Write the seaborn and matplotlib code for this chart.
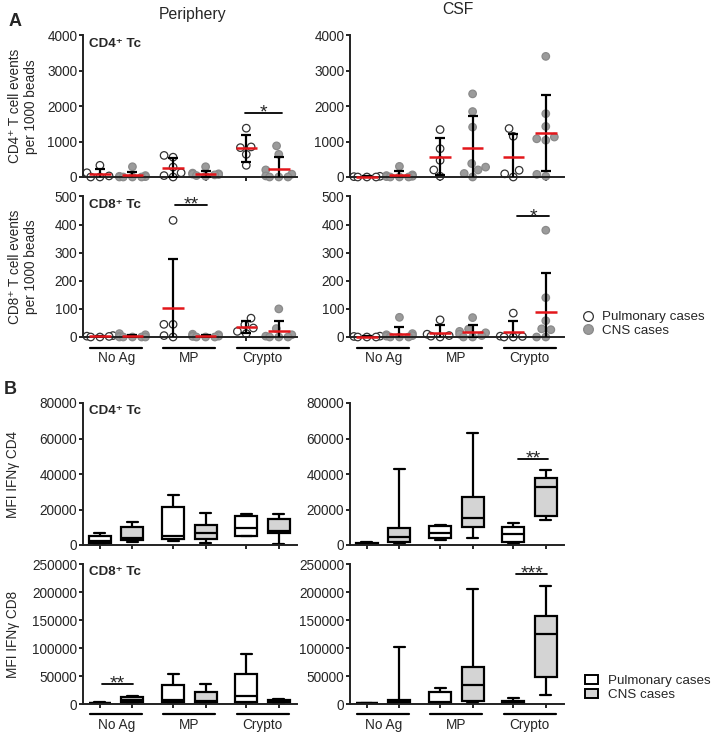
import matplotlib

matplotlib.use("Agg")
import matplotlib.pyplot as plt
import numpy as np
import pandas as pd
import seaborn as sns
from matplotlib.lines import Line2D
from matplotlib.patches import Patch

# ---- data ---------------------------------------------------------------
STIMULI = ["No Ag", "MP", "Crypto"]
CASES = ["Pulmonary cases", "CNS cases"]

# Panel A: T cell events per 1000 beads, one list per stimulus
cd4_periphery_pul = [[330, 120, 30, 0, 0], [610, 560, 280, 120, 40, 0], [1380, 850, 830, 640, 330]]
cd4_periphery_cns = [[290, 40, 20, 10, 0, 0, 0, 0], [290, 110, 90, 80, 70, 60, 40, 20],
                     [880, 640, 200, 80, 30, 0, 0, 0]]
cd4_csf_pul = [[20, 10, 0, 0, 0], [1340, 800, 470, 200, 20], [1370, 1150, 190, 90, 0]]
cd4_csf_cns = [[300, 60, 40, 20, 10, 0, 0, 0], [2350, 1850, 1410, 380, 280, 200, 100, 0],
               [3410, 1790, 1430, 1130, 1080, 1040, 75, 20]]
cd8_periphery_pul = [[5, 3, 2, 0, 0], [415, 45, 45, 5, 0], [67, 44, 32, 20, 12]]
cd8_periphery_cns = [[12, 8, 3, 0, 0, 0, 0, 0], [10, 8, 5, 3, 2, 0, 0, 0], [100, 30, 8, 3, 0, 0, 0]]
cd8_csf_pul = [[3, 2, 0, 0, 0], [61, 10, 5, 3, 0], [85, 3, 2, 0, 0]]
cd8_csf_cns = [[70, 12, 8, 5, 3, 0, 0, 0], [69, 28, 20, 15, 10, 5, 0, 0], [380, 140, 58, 29, 26, 0, 0]]

# Panel B: MFI IFN-gamma, five-number summaries (min, q1, median, q3, max)
mfi_cd4_periphery_pul = [[300, 1200, 2500, 5300, 7000], [2400, 3400, 5300, 21600, 28200],
                         [5200, 5300, 9400, 16600, 17500]]
mfi_cd4_periphery_cns = [[1500, 2800, 3800, 10000, 12800], [1300, 3400, 6600, 11300, 18300],
                         [600, 6600, 7900, 14700, 17500]]
mfi_cd4_csf_pul = [[200, 400, 700, 1200, 1500], [2800, 3800, 6600, 10900, 11300],
                   [400, 1900, 6200, 10400, 12600]]
mfi_cd4_csf_cns = [[600, 1900, 4700, 9800, 42900], [4100, 10000, 15400, 26900, 63000],
                   [14100, 16400, 32900, 38000, 42400]]
mfi_cd8_periphery_pul = [[500, 1000, 1500, 2500, 3000], [1800, 3600, 7700, 33300, 53400],
                         [1800, 3000, 14800, 54000, 89000]]
mfi_cd8_periphery_cns = [[1800, 3600, 7700, 11900, 13700], [1800, 3000, 5900, 20800, 35600],
                         [1800, 3600, 4800, 6500, 8900]]
mfi_cd8_csf_pul = [[500, 1000, 1300, 1800, 2200], [1800, 2400, 3600, 20800, 28500],
                   [1200, 2400, 3600, 5900, 10000]]
mfi_cd8_csf_cns = [[1800, 2400, 4200, 6500, 101000], [1800, 5900, 34400, 65300, 205000],
                   [16600, 49000, 125000, 158000, 211000]]

# significance bars: (x start, x end, height, label)
sig_cd4_periphery = [(4.46, 5.6, 1820, "*")]
sig_cd8_periphery = [(2.31, 3.29, 470, "**")]
sig_cd8_csf = [(4.62, 5.6, 429, "*")]
sig_mfi_cd4_csf = [(4.65, 5.57, 48400, "**")]
sig_mfi_cd8_periphery = [(0.06, 1.02, 36200, "**")]
sig_mfi_cd8_csf = [(4.59, 5.54, 233000, "***")]

# ---- layout ----------------------------------------------------------------
FIG_W, FIG_H = 712, 736
PUL_POS = [0.0, 2.25, 4.5]
CNS_POS = [1.0, 3.25, 5.5]
XLIM = (-0.52, 6.06)
PUL_FACE, CNS_FACE = "white", "#9b9b9b"
BOX_FACE = {"Pulmonary cases": "white", "CNS cases": "#d4d4d4"}
FS = 9.8

sns.set_style("ticks")
plt.rcParams["font.family"] = ["Liberation Sans", "DejaVu Sans"]
plt.rcParams["axes.linewidth"] = 1.4
plt.rcParams["xtick.major.width"] = 1.4
plt.rcParams["ytick.major.width"] = 1.4
plt.rcParams["xtick.major.size"] = 2.6
plt.rcParams["ytick.major.size"] = 2.6
plt.rcParams["xtick.major.pad"] = 1.5
plt.rcParams["ytick.major.pad"] = 1.5
plt.rcParams["xtick.labelsize"] = FS
plt.rcParams["ytick.labelsize"] = FS
plt.rcParams["axes.edgecolor"] = "#222222"

fig = plt.figure(figsize=(FIG_W / 100, FIG_H / 100), dpi=100)


def px_axes(left, top, right, bottom):
    return fig.add_axes([left / FIG_W, 1 - bottom / FIG_H,
                         (right - left) / FIG_W, (bottom - top) / FIG_H])


def long_table(pul, cns):
    rows = []
    for pos, values in zip(PUL_POS, pul):
        rows += [(pos, v, CASES[0]) for v in values]
    for pos, values in zip(CNS_POS, cns):
        rows += [(pos, v, CASES[1]) for v in values]
    return pd.DataFrame(rows, columns=["pos", "value", "case"])


def style_axes(ax, ymax, ystep):
    ax.set_xlim(*XLIM)
    ax.set_ylim(0, ymax)
    ticks = np.arange(0, ymax + 1, ystep)
    ax.set_yticks(ticks)
    ax.set_yticklabels([f"{int(t)}" for t in ticks])
    ax.set_xticks(sorted(PUL_POS + CNS_POS))
    ax.set_xticklabels([])
    ax.set_xlabel("")
    ax.set_ylabel("")
    sns.despine(ax=ax)


def add_sig(ax, bars):
    for x1, x2, y, label in bars:
        ax.plot([x1, x2], [y, y], color="black", lw=1.3, clip_on=False)
        ax.annotate(label, xy=((x1 + x2) / 2, y), xytext=(0, -3.4), textcoords="offset points",
                    ha="center", va="baseline", fontsize=14)


def scatter_panel(ax, pul, cns, ymax, ystep, sig):
    df = long_table(pul, cns)
    sns.swarmplot(data=df, x="pos", y="value", hue="case", native_scale=True,
                  palette={CASES[0]: PUL_FACE, CASES[1]: CNS_FACE}, size=5.4,
                  linewidth=0.9, legend=False, ax=ax, warn_thresh=1.0)
    for coll in ax.collections:
        fc = coll.get_facecolors()
        if len(fc) == 0:
            continue
        is_open = fc[0][0] > 0.9
        coll.set_edgecolor("#333333" if is_open else "#8a8a8a")
        coll.set_clip_on(False)
        coll.set_zorder(2)
    stats = df.groupby(["pos"])["value"].agg(["mean", "std"]).reset_index()
    ax.errorbar(stats["pos"], stats["mean"], yerr=stats["std"], fmt="none", ecolor="black",
                elinewidth=1.6, capsize=3.6, capthick=1.6, zorder=3)
    ax.hlines(stats["mean"], stats["pos"] - 0.33, stats["pos"] + 0.33, color="#e3161b",
              lw=1.8, zorder=4, clip_on=False)
    style_axes(ax, ymax, ystep)
    add_sig(ax, sig)


def box_panel(ax, pul, cns, ymax, ystep, sig):
    df = long_table(pul, cns)
    sns.boxplot(data=df, x="pos", y="value", hue="case", native_scale=True, dodge=False,
                whis=(0, 100), width=0.68, palette=BOX_FACE, linecolor="black",
                linewidth=1.6, legend=False, ax=ax)
    style_axes(ax, ymax, ystep)
    add_sig(ax, sig)


def cell_label(ax, text):
    ax.text(0.03, 0.985, text, transform=ax.transAxes, ha="left", va="top",
            fontsize=9.6, fontweight="bold")


def group_labels(ax, line_y, text_y):
    trans = ax.get_xaxis_transform()
    for stim, p, c in zip(STIMULI, PUL_POS, CNS_POS):
        ax.plot([p - 0.3, c + 0.3], [line_y, line_y], color="black", lw=1.6,
                transform=trans, clip_on=False)
        ax.text((p + c) / 2, text_y, stim, transform=trans, ha="center", va="center",
                fontsize=FS)


# ---- panel A -----------------------------------------------------------------
a1 = px_axes(83, 35.5, 297, 177)
a2 = px_axes(350, 35.5, 564, 177)
a3 = px_axes(83, 196.5, 297, 337)
a4 = px_axes(350, 196.5, 564, 337)

scatter_panel(a1, cd4_periphery_pul, cd4_periphery_cns, 4000, 1000, sig_cd4_periphery)
scatter_panel(a2, cd4_csf_pul, cd4_csf_cns, 4000, 1000, [])
scatter_panel(a3, cd8_periphery_pul, cd8_periphery_cns, 500, 100, sig_cd8_periphery)
scatter_panel(a4, cd8_csf_pul, cd8_csf_cns, 500, 100, sig_cd8_csf)
cell_label(a1, "CD4\u207a Tc")
cell_label(a3, "CD8\u207a Tc")
for ax in (a3, a4):
    group_labels(ax, -0.078, -0.15)

a1.set_ylabel("CD4\u207a T cell events\nper 1000 beads", fontsize=FS, linespacing=1.15)
a3.set_ylabel("CD8\u207a T cell events\nper 1000 beads", fontsize=FS, linespacing=1.15)
a1.yaxis.set_label_coords(-0.212, 0.5)
a3.yaxis.set_label_coords(-0.212, 0.5)

fig.legend(handles=[Line2D([], [], ls="", marker="o", ms=7, mfc=PUL_FACE, mec="#333333", mew=0.9),
                    Line2D([], [], ls="", marker="o", ms=7, mfc=CNS_FACE, mec="#8a8a8a", mew=0.9)],
           labels=CASES, loc="upper left", bbox_to_anchor=(581 / FIG_W, 1 - 311 / FIG_H),
           frameon=False, borderpad=0, borderaxespad=0, handlelength=1.0,
           handletextpad=0.6, labelspacing=0.1, fontsize=9.6)

# ---- panel B -----------------------------------------------------------------
b1 = px_axes(83, 403, 297, 545)
b2 = px_axes(350, 403, 564, 545)
b3 = px_axes(83, 564, 297, 704)
b4 = px_axes(350, 564, 564, 704)

box_panel(b1, mfi_cd4_periphery_pul, mfi_cd4_periphery_cns, 80000, 20000, [])
box_panel(b2, mfi_cd4_csf_pul, mfi_cd4_csf_cns, 80000, 20000, sig_mfi_cd4_csf)
box_panel(b3, mfi_cd8_periphery_pul, mfi_cd8_periphery_cns, 250000, 50000, sig_mfi_cd8_periphery)
box_panel(b4, mfi_cd8_csf_pul, mfi_cd8_csf_cns, 250000, 50000, sig_mfi_cd8_csf)
cell_label(b1, "CD4\u207a Tc")
cell_label(b3, "CD8\u207a Tc")
for ax in (b3, b4):
    group_labels(ax, -0.071, -0.15)

b1.set_ylabel("MFI IFN\u03b3 CD4", fontsize=FS)
b3.set_ylabel("MFI IFN\u03b3 CD8", fontsize=FS)
b1.yaxis.set_label_coords(-0.295, 0.5)
b3.yaxis.set_label_coords(-0.295, 0.5)

fig.legend(handles=[Patch(facecolor=BOX_FACE[c], edgecolor="black", lw=1.4) for c in CASES],
           labels=CASES, loc="upper left", bbox_to_anchor=(585 / FIG_W, 1 - 675 / FIG_H),
           frameon=False, borderpad=0, borderaxespad=0, handlelength=1.0, handleheight=0.65,
           handletextpad=0.75, labelspacing=0.15, fontsize=9.6)

# ---- titles and panel letters ------------------------------------------------
fig.text(193 / FIG_W, 1 - 14 / FIG_H, "Periphery", ha="center", va="center", fontsize=11.3)
fig.text(458 / FIG_W, 1 - 10 / FIG_H, "CSF", ha="center", va="center", fontsize=11.3)
fig.text(15 / FIG_W, 1 - 22 / FIG_H, "A", ha="center", va="center", fontsize=13, fontweight="bold")
fig.text(10 / FIG_W, 1 - 390 / FIG_H, "B", ha="center", va="center", fontsize=13, fontweight="bold")

fig.savefig("out.png", dpi=100)
